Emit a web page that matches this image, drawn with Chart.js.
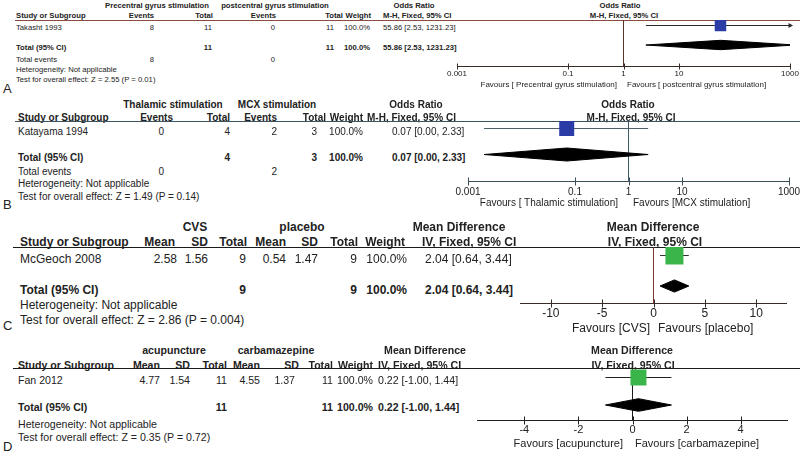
<!DOCTYPE html>
<html><head><meta charset="utf-8">
<script src="https://cdn.jsdelivr.net/npm/chart.js@4.4.0/dist/chart.umd.min.js"></script>
<style>
html,body{margin:0;padding:0;background:#fff;}
#root{position:relative;width:800px;height:452px;overflow:hidden;font-family:"Liberation Sans",Arial,sans-serif;color:#222;}
.t{position:absolute;white-space:nowrap;line-height:1;}
.rule{position:absolute;height:0;}
canvas{position:absolute;}
</style></head><body><div id="root"></div>
<script>
// ---------- Panel A (dichotomous, odds ratio) ----------
const A_groups = ['Precentral gyrus stimulation', 'postcentral gyrus stimulation'];
const A_studies = ['Takasht 1993'];
const A_events1 = [8];
const A_total1 = [11];
const A_events2 = [0];
const A_total2 = [11];
const A_weight = [100.0];
const A_est = [55.86];
const A_lo = [2.53];
const A_hi = [1231.23];
const A_pooled = [55.86, 2.53, 1231.23];
const A_ticks = [0.001, 0.1, 1, 10, 1000];
const A_tickLabels = ['0.001', '0.1', '1', '10', '1000'];
const A_favours = ['Favours [ Precentral gyrus stimulation]', 'Favours [ postcentral gyrus stimulation]'];
const A_test = 'Test for overall effect: Z = 2.55 (P = 0.01)';

// ---------- Panel B (dichotomous, odds ratio) ----------
const B_groups = ['Thalamic stimulation', 'MCX stimulation'];
const B_studies = ['Katayama 1994'];
const B_events1 = [0];
const B_total1 = [4];
const B_events2 = [2];
const B_total2 = [3];
const B_weight = [100.0];
const B_est = [0.07];
const B_lo = [0.002];
const B_hi = [2.33];
const B_pooled = [0.07, 0.002, 2.33];
const B_ticks = [0.001, 0.1, 1, 10, 1000];
const B_tickLabels = ['0.001', '0.1', '1', '10', '1000'];
const B_favours = ['Favours [ Thalamic stimulation]', 'Favours [MCX stimulation]'];
const B_test = 'Test for overall effect: Z = 1.49 (P = 0.14)';

// ---------- Panel C (continuous, mean difference) ----------
const C_groups = ['CVS', 'placebo'];
const C_studies = ['McGeoch 2008'];
const C_mean1 = [2.58];
const C_sd1 = [1.56];
const C_n1 = [9];
const C_mean2 = [0.54];
const C_sd2 = [1.47];
const C_n2 = [9];
const C_weight = [100.0];
const C_est = [2.04];
const C_lo = [0.64];
const C_hi = [3.44];
const C_pooled = [2.04, 0.64, 3.44];
const C_ticks = [-10, -5, 0, 5, 10];
const C_tickLabels = ['-10', '-5', '0', '5', '10'];
const C_favours = ['Favours [CVS]', 'Favours [placebo]'];
const C_test = 'Test for overall effect: Z = 2.86 (P = 0.004)';

// ---------- Panel D (continuous, mean difference) ----------
const D_groups = ['acupuncture', 'carbamazepine'];
const D_studies = ['Fan 2012'];
const D_mean1 = [4.77];
const D_sd1 = [1.54];
const D_n1 = [11];
const D_mean2 = [4.55];
const D_sd2 = [1.37];
const D_n2 = [11];
const D_weight = [100.0];
const D_est = [0.22];
const D_lo = [-1.00];
const D_hi = [1.44];
const D_pooled = [0.22, -1.00, 1.44];
const D_ticks = [-4, -2, 0, 2, 4];
const D_tickLabels = ['-4', '-2', '0', '2', '4'];
const D_favours = ['Favours [acupuncture]', 'Favours [carbamazepine]'];
const D_test = 'Test for overall effect: Z = 0.35 (P = 0.72)';

const HET = 'Heterogeneity: Not applicable';
const FONT = '"Liberation Sans", Arial, sans-serif';
const root = document.getElementById('root');

function T(x, y, s, fs, o) {
  o = o || {};
  const d = document.createElement('div');
  d.className = 't';
  d.textContent = s;
  d.style.fontSize = fs + 'px';
  d.style.left = x + 'px';
  d.style.top = y + 'px';
  if (o.b) d.style.fontWeight = 'bold';
  const tx = o.a === 'r' ? '-100%' : (o.a === 'c' ? '-50%' : '0');
  d.style.transform = 'translate(' + tx + ',-50%)';
  if (o.c) d.style.color = o.c;
  root.appendChild(d);
}
function R(x0, y, color) {
  const d = document.createElement('div');
  d.className = 'rule';
  d.style.left = x0 + 'px';
  d.style.top = y + 'px';
  d.style.width = (800 - x0) + 'px';
  d.style.borderTop = '1px solid ' + color;
  root.appendChild(d);
}
const eff = (e, l, h) => e.toFixed(2) + ' [' + l.toFixed(2) + ', ' + h.toFixed(2) + ']';
const pct = w => w.toFixed(1) + '%';
const sum = a => a.reduce((x, y) => x + y, 0);

function axisPlugin(p, top) {
  return {
    id: 'forestAxis',
    afterDatasetsDraw(ch) {
      const ctx = ch.ctx, xs = ch.scales.x;
      const yb = Math.round(ch.chartArea.bottom) + 0.5;
      ctx.save();
      ctx.strokeStyle = p.axisColor;
      ctx.lineWidth = 1;
      ctx.beginPath();
      ctx.moveTo(xs.getPixelForValue(p.xmin), yb);
      ctx.lineTo(xs.getPixelForValue(p.xmax), yb);
      p.ticks.forEach(v => {
        const x = Math.round(xs.getPixelForValue(v)) + 0.5;
        ctx.moveTo(x, yb - p.th);
        ctx.lineTo(x, yb + p.th);
      });
      ctx.stroke();
      ctx.fillStyle = '#222';
      ctx.font = p.tickFs + 'px ' + FONT;
      ctx.textAlign = 'center';
      ctx.textBaseline = 'middle';
      p.ticks.forEach((v, i) => ctx.fillText(p.tickLabels[i], xs.getPixelForValue(v), p.tickY - top));
      ctx.restore();
    }
  };
}

function forest(p) {
  const cv = document.createElement('canvas');
  const padL = 14, padR = 14, padT = 2;
  const left = p.x0 - padL, top = p.ruleY - padT;
  const w = p.x1 - p.x0 + padL + padR;
  const h = Math.ceil(p.tickY + p.tickFs) - top;
  cv.width = w; cv.height = h;
  cv.style.left = left + 'px'; cv.style.top = top + 'px';
  cv.style.width = w + 'px'; cv.style.height = h + 'px';
  root.appendChild(cv);
  const padB = h - (p.axisY - top);
  const perRow = p.rowY[1] - p.rowY[0];
  const ymin = 1 - (p.rowY[0] - p.ruleY) / perRow;
  const ymax = 2 + (p.axisY - p.rowY[1]) / perRow;
  const f = p.log ? Math.log10 : (v => v);
  const ds = [];
  ds.push({
    data: p.est.map((v, i) => ({x: v, y: i + 1})),
    pointStyle: 'rect', pointRadius: p.sq / Math.SQRT2,
    backgroundColor: p.sqColor, borderColor: p.sqColor, borderWidth: 0, showLine: false
  });
  p.est.forEach((v, i) => {
    const l = Math.max(p.lo[i], p.xmin), r = Math.min(p.hi[i], p.xmax);
    ds.push({
      data: [{x: l, y: i + 1}, {x: r, y: i + 1}],
      showLine: true, borderColor: p.ciColor, borderWidth: 1,
      pointStyle: 'triangle', pointRotation: [-90, 90],
      pointRadius: [p.lo[i] < p.xmin ? 3 : 0, p.hi[i] > p.xmax ? 3 : 0],
      pointBackgroundColor: p.ciColor, pointBorderColor: p.ciColor, pointBorderWidth: 0,
      clip: false
    });
  });
  // pooled diamond, cut at the axis ends when the interval runs past them
  const [e, l, r] = p.pooled;
  const ty = p.est.length + 1, dh = p.dh;
  const pts = [];
  if (l < p.xmin) {
    const k = dh * (f(e) - f(p.xmin)) / (f(e) - f(l));
    pts.push({x: p.xmin, y: ty + k}, {x: p.xmin, y: ty - k});
  } else pts.push({x: l, y: ty});
  pts.push({x: e, y: ty - dh});
  if (r > p.xmax) {
    const k = dh * (f(r) - f(p.xmax)) / (f(r) - f(e));
    pts.push({x: p.xmax, y: ty - k}, {x: p.xmax, y: ty + k});
  } else pts.push({x: r, y: ty});
  pts.push({x: e, y: ty + dh});
  pts.push({...pts[0]});
  ds.push({
    data: pts, showLine: true, fill: 'shape', backgroundColor: '#000', borderColor: '#000',
    borderWidth: 1, pointRadius: 0
  });
  ds.push({
    data: [{x: p.ref, y: ymin}, {x: p.ref, y: ymax}],
    showLine: true, borderColor: p.refColor, borderWidth: 1, pointRadius: 0, clip: false
  });
  new Chart(cv, {
    type: 'scatter',
    data: {datasets: ds},
    options: {
      responsive: false, animation: false, events: [], devicePixelRatio: 1,
      layout: {autoPadding: false, padding: {left: padL, right: padR, top: padT, bottom: padB}},
      plugins: {legend: {display: false}, tooltip: {enabled: false}},
      scales: {
        x: {type: p.log ? 'logarithmic' : 'linear', min: p.xmin, max: p.xmax, display: false,
            afterBuildTicks: s => { s.min = p.xmin; s.max = p.xmax; }},
        y: {type: 'linear', min: ymin, max: ymax, reverse: true, display: false,
            afterBuildTicks: s => { s.min = ymin; s.max = ymax; }}
      }
    },
    plugins: [axisPlugin(p, top)]
  });
  T(p.favL, p.favY, p.favours[0], p.favFs, {a: 'r'});
  T(p.favR, p.favY, p.favours[1], p.favFs);
}

// ================= Panel A text =================
(function () {
  const f = 7.7, B = {b: 1};
  T(157, 6, A_groups[0], f, {b: 1, a: 'c'});
  T(275, 6, A_groups[1], f, {b: 1, a: 'c'});
  T(414, 6, 'Odds Ratio', f, {b: 1, a: 'c'});
  T(620, 6, 'Odds Ratio', f, {b: 1, a: 'c'});
  T(16, 16, 'Study or Subgroup', f, B);
  T(154, 16, 'Events', f, {b: 1, a: 'r'});
  T(213, 16, 'Total', f, {b: 1, a: 'r'});
  T(276, 16, 'Events', f, {b: 1, a: 'r'});
  T(343, 16, 'Total', f, {b: 1, a: 'r'});
  T(371, 16, 'Weight', f, {b: 1, a: 'r'});
  T(383, 16, 'M-H, Fixed, 95% CI', f, B);
  T(624, 16, 'M-H, Fixed, 95% CI', f, {b: 1, a: 'c'});
  R(15, 20, '#8a4b40');
  A_studies.forEach((s, i) => {
    const y = 28;
    T(16, y, s, f);
    T(154, y, String(A_events1[i]), f, {a: 'r'});
    T(212, y, String(A_total1[i]), f, {a: 'r'});
    T(275, y, String(A_events2[i]), f, {a: 'r'});
    T(334, y, String(A_total2[i]), f, {a: 'r'});
    T(370, y, pct(A_weight[i]), f, {a: 'r'});
    T(383, y, eff(A_est[i], A_lo[i], A_hi[i]), f);
  });
  T(16, 48, 'Total (95% CI)', f, B);
  T(212, 48, String(sum(A_total1)), f, {b: 1, a: 'r'});
  T(334, 48, String(sum(A_total2)), f, {b: 1, a: 'r'});
  T(370, 48, pct(sum(A_weight)), f, {b: 1, a: 'r'});
  T(383, 48, eff(...A_pooled), f, B);
  T(16, 60, 'Total events', f);
  T(154, 60, String(sum(A_events1)), f, {a: 'r'});
  T(275, 60, String(sum(A_events2)), f, {a: 'r'});
  T(16, 70, HET, f);
  T(16, 80, A_test, f);
  T(3, 88, 'A', 13);
})();
forest({
  log: true, xmin: 0.001, xmax: 1000, ref: 1, x0: 457, x1: 790,
  ruleY: 20, axisY: 66, rowY: [25.5, 45],
  est: A_est, lo: A_lo, hi: A_hi, pooled: A_pooled,
  sq: 11.5, dh: 0.24, sqColor: '#2c3ca6', ciColor: '#2a2a2a', refColor: '#5a3329', axisColor: '#3a2a26',
  ticks: A_ticks, tickLabels: A_tickLabels, tickFs: 8, tickY: 74, th: 3,
  favours: A_favours, favY: 85, favFs: 8, favL: 617, favR: 627
});

// ================= Panel B text =================
(function () {
  const f = 10, B = {b: 1};
  T(173, 105, B_groups[0], f, {b: 1, a: 'c'});
  T(277, 105, B_groups[1], f, {b: 1, a: 'c'});
  T(416, 105, 'Odds Ratio', f, {b: 1, a: 'c'});
  T(628, 105, 'Odds Ratio', f, {b: 1, a: 'c'});
  T(18, 118, 'Study or Subgroup', f, B);
  T(173, 118, 'Events', f, {b: 1, a: 'r'});
  T(230, 118, 'Total', f, {b: 1, a: 'r'});
  T(277, 118, 'Events', f, {b: 1, a: 'r'});
  T(326, 118, 'Total', f, {b: 1, a: 'r'});
  T(363, 118, 'Weight', f, {b: 1, a: 'r'});
  T(367, 118, 'M-H, Fixed, 95% CI', f, B);
  T(631, 118, 'M-H, Fixed, 95% CI', f, {b: 1, a: 'c'});
  R(15, 121, '#3c5562');
  B_studies.forEach((s, i) => {
    const y = 132;
    T(18, y, s, f);
    T(164, y, String(B_events1[i]), f, {a: 'r'});
    T(230, y, String(B_total1[i]), f, {a: 'r'});
    T(277, y, String(B_events2[i]), f, {a: 'r'});
    T(317, y, String(B_total2[i]), f, {a: 'r'});
    T(363, y, pct(B_weight[i]), f, {a: 'r'});
    T(392, y, eff(B_est[i], B_lo[i], B_hi[i]), f);
  });
  T(18, 158, 'Total (95% CI)', f, B);
  T(230, 158, String(sum(B_total1)), f, {b: 1, a: 'r'});
  T(317, 158, String(sum(B_total2)), f, {b: 1, a: 'r'});
  T(363, 158, pct(sum(B_weight)), f, {b: 1, a: 'r'});
  T(392, 158, eff(...B_pooled), f, B);
  T(18, 172, 'Total events', f);
  T(164, 172, String(sum(B_events1)), f, {a: 'r'});
  T(277, 172, String(sum(B_events2)), f, {a: 'r'});
  T(18, 184, HET, f);
  T(18, 197, B_test, f);
  T(3, 204, 'B', 13);
})();
forest({
  log: true, xmin: 0.001, xmax: 1000, ref: 1, x0: 468, x1: 789,
  ruleY: 121, axisY: 181, rowY: [128.5, 154.5],
  est: B_est, lo: B_lo, hi: B_hi, pooled: B_pooled,
  sq: 15, dh: 0.25, sqColor: '#2c3ca6', ciColor: '#4d6068', refColor: '#3f5e6a', axisColor: '#3c4f58',
  ticks: B_ticks, tickLabels: B_tickLabels, tickFs: 10, tickY: 192, th: 4,
  favours: B_favours, favY: 203, favFs: 10, favL: 618, favR: 633
});

// ================= Panel C text =================
(function () {
  const f = 12, B = {b: 1};
  T(195, 227, C_groups[0], f, {b: 1, a: 'c'});
  T(302, 227, C_groups[1], f, {b: 1, a: 'c'});
  T(459, 227, 'Mean Difference', f, {b: 1, a: 'c'});
  T(653, 227, 'Mean Difference', f, {b: 1, a: 'c'});
  T(20, 242, 'Study or Subgroup', f, B);
  T(175, 242, 'Mean', f, {b: 1, a: 'r'});
  T(208, 242, 'SD', f, {b: 1, a: 'r'});
  T(247, 242, 'Total', f, {b: 1, a: 'r'});
  T(286, 242, 'Mean', f, {b: 1, a: 'r'});
  T(318, 242, 'SD', f, {b: 1, a: 'r'});
  T(358, 242, 'Total', f, {b: 1, a: 'r'});
  T(405, 242, 'Weight', f, {b: 1, a: 'r'});
  T(422, 242, 'IV, Fixed, 95% CI', f, B);
  T(655, 242, 'IV, Fixed, 95% CI', f, {b: 1, a: 'c'});
  R(13, 247, '#1a1a1a');
  C_studies.forEach((s, i) => {
    const y = 259;
    T(20, y, s, f);
    T(177, y, C_mean1[i].toFixed(2), f, {a: 'r'});
    T(208, y, C_sd1[i].toFixed(2), f, {a: 'r'});
    T(246, y, String(C_n1[i]), f, {a: 'r'});
    T(286, y, C_mean2[i].toFixed(2), f, {a: 'r'});
    T(318, y, C_sd2[i].toFixed(2), f, {a: 'r'});
    T(357, y, String(C_n2[i]), f, {a: 'r'});
    T(407, y, pct(C_weight[i]), f, {a: 'r'});
    T(425, y, eff(C_est[i], C_lo[i], C_hi[i]), f);
  });
  T(20, 290, 'Total (95% CI)', f, B);
  T(246, 290, String(sum(C_n1)), f, {b: 1, a: 'r'});
  T(357, 290, String(sum(C_n2)), f, {b: 1, a: 'r'});
  T(407, 290, pct(sum(C_weight)), f, {b: 1, a: 'r'});
  T(425, 290, eff(...C_pooled), f, B);
  T(20, 305, HET, f);
  T(20, 320, C_test, f);
  T(3, 325, 'C', 13);
})();
forest({
  log: false, xmin: -13, xmax: 13, ref: 0, x0: 520, x1: 787,
  ruleY: 247, axisY: 303, rowY: [255.5, 286],
  est: C_est, lo: C_lo, hi: C_hi, pooled: C_pooled,
  sq: 18, dh: 0.2, sqColor: '#3ab54a', ciColor: '#333', refColor: '#7a3a30', axisColor: '#3a2a28',
  ticks: C_ticks, tickLabels: C_tickLabels, tickFs: 12, tickY: 314, th: 4,
  favours: C_favours, favY: 328, favFs: 12, favL: 650, favR: 658
});

// ================= Panel D text =================
(function () {
  const f = 10.6, B = {b: 1};
  T(174, 350, D_groups[0], f, {b: 1, a: 'c'});
  T(276, 350, D_groups[1], f, {b: 1, a: 'c'});
  T(425, 350, 'Mean Difference', f, {b: 1, a: 'c'});
  T(632, 350, 'Mean Difference', f, {b: 1, a: 'c'});
  T(18, 365, 'Study or Subgroup', f, B);
  T(160, 365, 'Mean', f, {b: 1, a: 'r'});
  T(190, 365, 'SD', f, {b: 1, a: 'r'});
  T(227, 365, 'Total', f, {b: 1, a: 'r'});
  T(260, 365, 'Mean', f, {b: 1, a: 'r'});
  T(299, 365, 'SD', f, {b: 1, a: 'r'});
  T(333, 365, 'Total', f, {b: 1, a: 'r'});
  T(373, 365, 'Weight', f, {b: 1, a: 'r'});
  T(378, 365, 'IV, Fixed, 95% CI', f, B);
  T(633, 365, 'IV, Fixed, 95% CI', f, {b: 1, a: 'c'});
  R(13, 368, '#1a1a1a');
  D_studies.forEach((s, i) => {
    const y = 380;
    T(18, y, s, f);
    T(160, y, D_mean1[i].toFixed(2), f, {a: 'r'});
    T(190, y, D_sd1[i].toFixed(2), f, {a: 'r'});
    T(227, y, String(D_n1[i]), f, {a: 'r'});
    T(260, y, D_mean2[i].toFixed(2), f, {a: 'r'});
    T(295, y, D_sd2[i].toFixed(2), f, {a: 'r'});
    T(333, y, String(D_n2[i]), f, {a: 'r'});
    T(373, y, pct(D_weight[i]), f, {a: 'r'});
    T(378, y, eff(D_est[i], D_lo[i], D_hi[i]), f);
  });
  T(18, 407, 'Total (95% CI)', f, B);
  T(227, 407, String(sum(D_n1)), f, {b: 1, a: 'r'});
  T(333, 407, String(sum(D_n2)), f, {b: 1, a: 'r'});
  T(373, 407, pct(sum(D_weight)), f, {b: 1, a: 'r'});
  T(378, 407, eff(...D_pooled), f, B);
  T(18, 424, HET, f);
  T(18, 437, D_test, f);
  T(3, 446, 'D', 13);
})();
forest({
  log: false, xmin: -5.75, xmax: 5.75, ref: 0, x0: 477, x1: 788,
  ruleY: 368, axisY: 420, rowY: [377.5, 405],
  est: D_est, lo: D_lo, hi: D_hi, pooled: D_pooled,
  sq: 16, dh: 0.23, sqColor: '#3ab54a', ciColor: '#222', refColor: '#1a1a1a', axisColor: '#222',
  ticks: D_ticks, tickLabels: D_tickLabels, tickFs: 11, tickY: 430, th: 4,
  favours: D_favours, favY: 443, favFs: 11, favL: 623, favR: 635
});
</script>
</body></html>
